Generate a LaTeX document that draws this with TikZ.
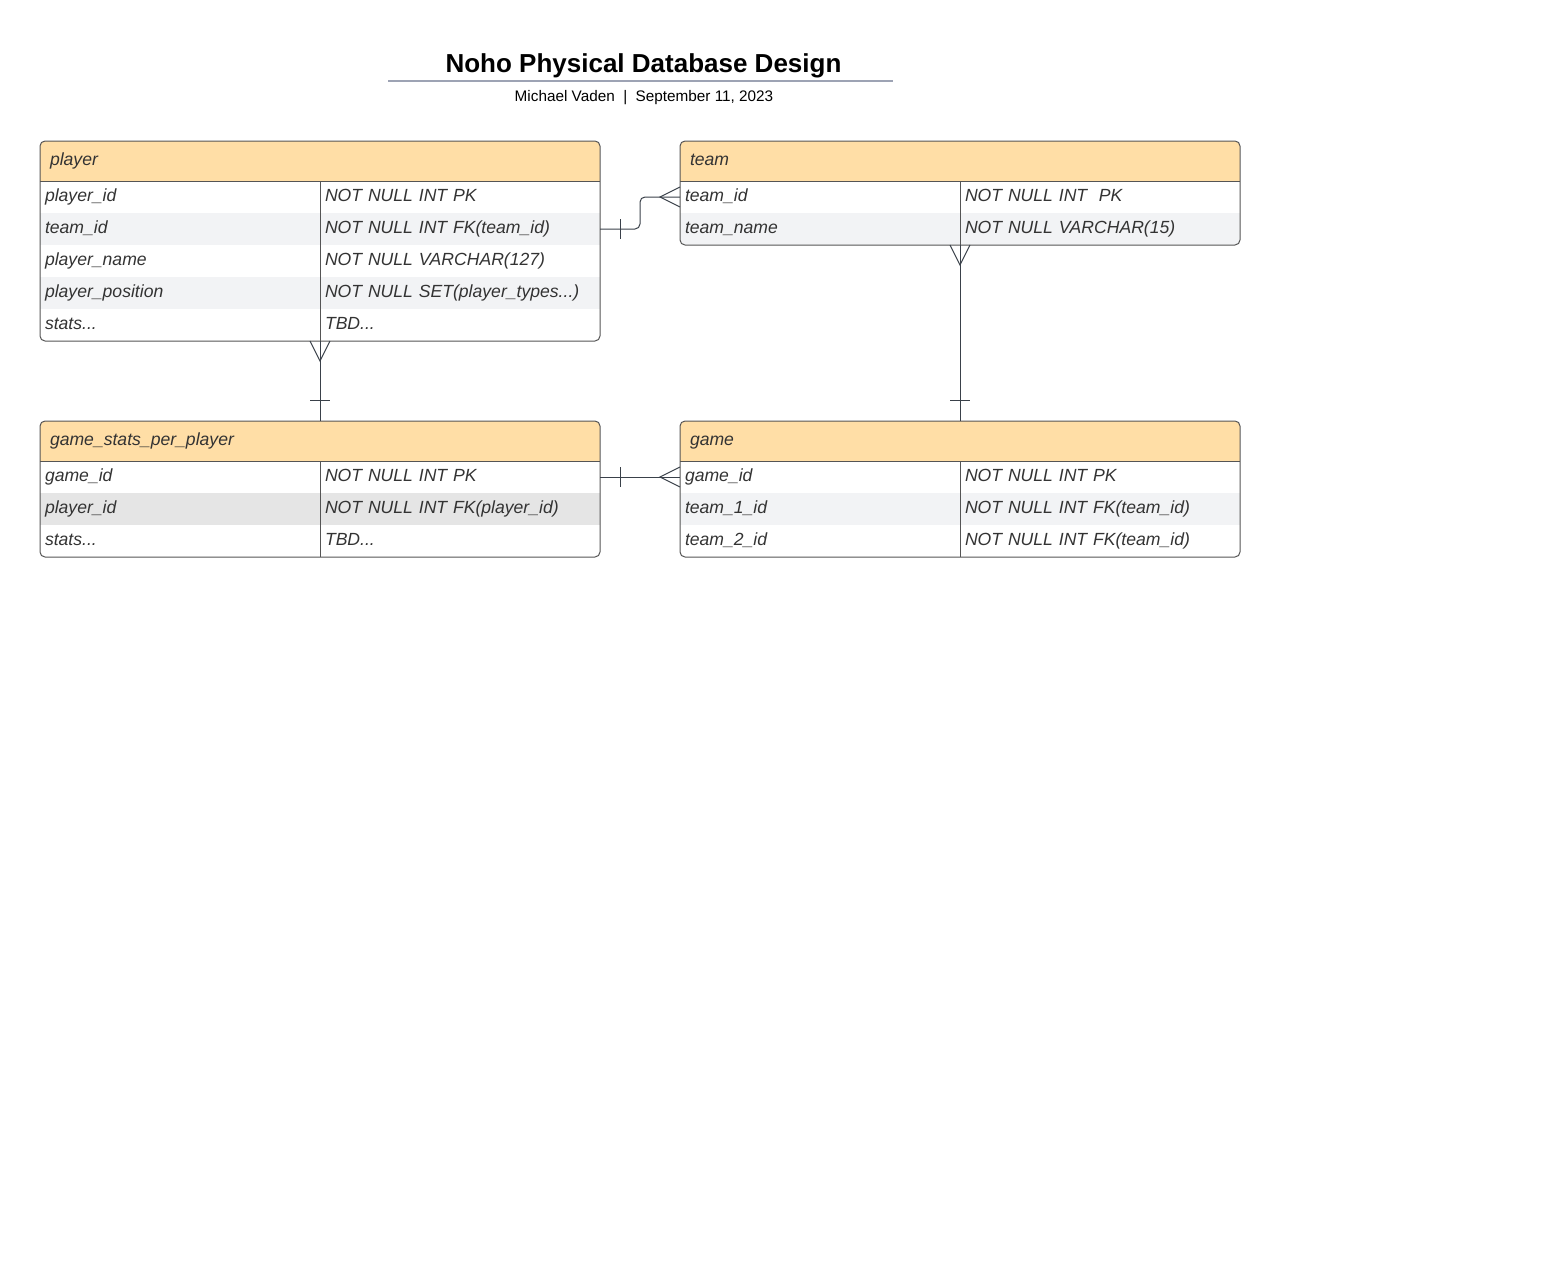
\documentclass[tikz,border=0pt]{standalone}
\usepackage{fontspec}
\setmainfont{Liberation Sans}
\usetikzlibrary{positioning}
\usetikzlibrary{backgrounds}
\definecolor{ink}{HTML}{333333}
\definecolor{headfill}{HTML}{FFDEA6}
\definecolor{rowgray}{HTML}{F2F3F5}
\definecolor{rowpick}{HTML}{E5E5E5}
\definecolor{edge}{HTML}{555555}
\definecolor{wire}{HTML}{3A414A}
\definecolor{rulegray}{HTML}{9DA3B4}
\tikzset{
  every picture/.style={
    x=1pt, y=-1pt,
    node distance=0pt
  },
  head/.style={
    anchor=north west, minimum width=560pt, minimum height=40pt,
    inner xsep=10pt, inner ysep=0pt, outer sep=0pt,
    text width=540pt, align=left,
    text height=13pt, text depth=4pt, text=ink,
    font=\itshape\fontsize{17.6}{20}\selectfont
  },
  cell/.style={
    minimum width=280pt, minimum height=32pt,
    inner xsep=5pt, inner ysep=0pt, outer sep=0pt,
    text width=270pt, align=left,
    text height=13pt, text depth=4pt, text=ink,
    font=\itshape\fontsize{17.6}{20}\selectfont
  },
  even/.style={cell, fill=rowgray},
  frame/.style={draw=edge, line width=1pt, rounded corners=5pt},
  rel/.style={draw=wire, line width=1pt}
}

\begin{document}
\begin{tikzpicture}
  \useasboundingbox (0,0) rectangle (1561,1282);

  % title block
  \node[font=\bfseries\fontsize{26}{30}\selectfont, anchor=base] (title) at (643.5,72)
    {Noho Physical Database Design};
  \draw[rulegray, line width=2pt] (388,81) coordinate (r0) -- (893,81) coordinate (r1);
  \node[font=\fontsize{15.3}{18}\selectfont, anchor=base] (byline) at (644,101)
    {Michael Vaden\ \ |\ \ September 11, 2023};

  % player
  \node[head] (player) at (40,141) {player};
  \node[cell, below right=0pt of player.south west] (player1) {player\_id};
  \node[cell, right=of player1] (player1t) {NOT NULL INT PK};
  \node[even, below=of player1] (player2) {team\_id};
  \node[even, right=of player2] (player2t) {NOT NULL INT FK(team\_id)};
  \node[cell, below=of player2] (player3) {player\_name};
  \node[cell, right=of player3] (player3t) {NOT NULL VARCHAR(127)};
  \node[even, below=of player3] (player4) {player\_position};
  \node[even, right=of player4] (player4t) {NOT NULL SET(player\_types...)};
  \node[cell, below=of player4] (player5) {stats...};
  \node[cell, right=of player5] (player5t) {TBD...};

  % team
  \node[head] (team) at (680,141) {team};
  \node[cell, below right=0pt of team.south west] (team1) {team\_id};
  \node[cell, right=of team1] (team1t) {NOT NULL INT\ \ PK};
  \node[cell, below=of team1] (team2) {team\_name};
  \node[cell, right=of team2] (team2t) {NOT NULL VARCHAR(15)};

  % game_stats_per_player
  \node[head] (stats) at (40,421) {game\_stats\_per\_player};
  \node[cell, below right=0pt of stats.south west] (stats1) {game\_id};
  \node[cell, right=of stats1] (stats1t) {NOT NULL INT PK};
  \node[cell, fill=rowpick, below=of stats1] (stats2) {player\_id};
  \node[cell, fill=rowpick, right=of stats2] (stats2t) {NOT NULL INT FK(player\_id)};
  \node[cell, below=of stats2] (stats3) {stats...};
  \node[cell, right=of stats3] (stats3t) {TBD...};

  % game
  \node[head] (game) at (680,421) {game};
  \node[cell, below right=0pt of game.south west] (game1) {game\_id};
  \node[cell, right=of game1] (game1t) {NOT NULL INT PK};
  \node[even, below=of game1] (game2) {team\_1\_id};
  \node[even, right=of game2] (game2t) {NOT NULL INT FK(team\_id)};
  \node[cell, below=of game2] (game3) {team\_2\_id};
  \node[cell, right=of game3] (game3t) {NOT NULL INT FK(team\_id)};

  % header fills, clipped to the rounded frames
  \begin{scope}[on background layer]
    \begin{scope}
      \clip[rounded corners=5pt] (player.north west) rectangle (player5t.south east);
      \fill[headfill] (player.north west) rectangle (player.south east);
    \end{scope}
    \begin{scope}
      \clip[rounded corners=5pt] (team.north west) rectangle (team2t.south east);
      \fill[headfill] (team.north west) rectangle (team.south east);
      \fill[rowgray] (team2.north west) rectangle (team2t.south east);
    \end{scope}
    \begin{scope}
      \clip[rounded corners=5pt] (stats.north west) rectangle (stats3t.south east);
      \fill[headfill] (stats.north west) rectangle (stats.south east);
    \end{scope}
    \begin{scope}
      \clip[rounded corners=5pt] (game.north west) rectangle (game3t.south east);
      \fill[headfill] (game.north west) rectangle (game.south east);
    \end{scope}
  \end{scope}

  % frames
  \draw[frame] (player.north west) rectangle (player5t.south east);
  \draw[edge] (player.south west) -- (player.south east);
  \draw[edge] (player1.north east) -- (player5.south east);
  \draw[frame] (team.north west) rectangle (team2t.south east);
  \draw[edge] (team.south west) -- (team.south east);
  \draw[edge] (team1.north east) -- (team2.south east);
  \draw[frame] (stats.north west) rectangle (stats3t.south east);
  \draw[edge] (stats.south west) -- (stats.south east);
  \draw[edge] (stats1.north east) -- (stats3.south east);
  \draw[frame] (game.north west) rectangle (game3t.south east);
  \draw[edge] (game.south west) -- (game.south east);
  \draw[edge] (game1.north east) -- (game3.south east);

  % player -> team
  \draw[rel, rounded corners=5pt] (player2t.east) -- ++(40,0) |- (team1.west);
  \draw[rel] ([xshift=20pt, yshift=10pt]player2t.east) -- ([xshift=20pt, yshift=-10pt]player2t.east);
  \draw[rel] ([yshift=10pt]team1.west) -- ([xshift=-20pt]team1.west) -- ([yshift=-10pt]team1.west);

  % player -> game_stats_per_player
  \draw[rel] (player5.south east) -- (stats.north);
  \draw[rel] ([xshift=-10pt]player5.south east) -- ([yshift=-20pt]player5.south east) -- ([xshift=10pt]player5.south east);
  \draw[rel] ([xshift=-10pt, yshift=21pt]stats.north) -- ([xshift=10pt, yshift=21pt]stats.north);

  % team -> game
  \draw[rel] (team2.south east) -- (game.north);
  \draw[rel] ([xshift=-10pt]team2.south east) -- ([yshift=-20pt]team2.south east) -- ([xshift=10pt]team2.south east);
  \draw[rel] ([xshift=-10pt, yshift=21pt]game.north) -- ([xshift=10pt, yshift=21pt]game.north);

  % game_stats_per_player -> game
  \draw[rel] (stats1t.east) -- (game1.west);
  \draw[rel] ([xshift=20pt, yshift=10pt]stats1t.east) -- ([xshift=20pt, yshift=-10pt]stats1t.east);
  \draw[rel] ([yshift=10pt]game1.west) -- ([xshift=-20pt]game1.west) -- ([yshift=-10pt]game1.west);
\end{tikzpicture}
\end{document}
